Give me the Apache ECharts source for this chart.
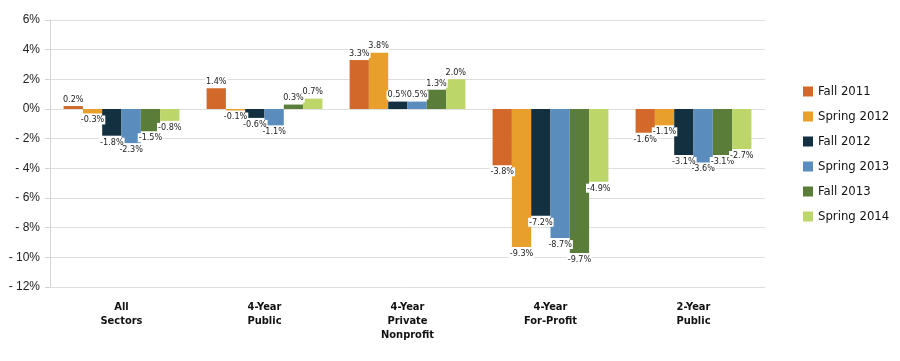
<!DOCTYPE html>
<html><head><meta charset="utf-8">
<script src="https://cdn.jsdelivr.net/npm/echarts@6/dist/echarts.min.js"></script>
<style>html,body{margin:0;padding:0;background:#fff}#c{width:900px;height:361px}</style>
</head><body><div id="c"></div>
<script>
const categories = ["All\nSectors", "4-Year\nPublic", "4-Year\nPrivate\nNonprofit", "4-Year\nFor-Profit", "2-Year\nPublic"];
const seriesNames = ["Fall 2011", "Spring 2012", "Fall 2012", "Spring 2013", "Fall 2013", "Spring 2014"];
const fall2011 = [0.2, 1.4, 3.3, -3.8, -1.6];
const spring2012 = [-0.3, -0.1, 3.8, -9.3, -1.1];
const fall2012 = [-1.8, -0.6, 0.5, -7.2, -3.1];
const spring2013 = [-2.3, -1.1, 0.5, -8.7, -3.6];
const fall2013 = [-1.5, 0.3, 1.3, -9.7, -3.1];
const spring2014 = [-0.8, 0.7, 2.0, -4.9, -2.7];
const yTicks = [-12, -10, -8, -6, -4, -2, 0, 2, 4, 6];

const allValues = [fall2011, spring2012, fall2012, spring2013, fall2013, spring2014];
const colors = ["#D2692A", "#E99F2B", "#12303F", "#5A8CBD", "#5A7E3A", "#BDD66A"];
const narrow = "'Liberation Sans Narrow','DejaVu Sans Condensed',sans-serif";

const series = seriesNames.map((name, i) => ({
  name: name,
  type: 'bar',
  barGap: '0%',
  barCategoryGap: '19%',
  itemStyle: {color: colors[i]},
  data: allValues[i].map(v => ({
    value: v,
    label: {position: v >= 0 ? 'top' : 'bottom'}
  })),
  label: {
    show: true,
    distance: 2,
    fontFamily: narrow,
    fontSize: 9,
    color: '#222',
    backgroundColor: '#fff',
    padding: [0, 1],
    formatter: p => p.value.toFixed(1) + '%'
  }
}));

const chart = echarts.init(document.getElementById('c'), null, {renderer: 'canvas'});
chart.setOption({
  animation: false,
  color: colors,
  grid: {left: 50, right: 135, top: 20, bottom: 74},
  legend: {
    orient: 'vertical',
    left: 798,
    top: 80,
    itemWidth: 10,
    itemHeight: 10,
    itemGap: 12,
    icon: 'rect',
    textStyle: {fontFamily: narrow, fontSize: 13, color: '#111'},
    data: seriesNames
  },
  xAxis: {
    type: 'category',
    data: categories,
    position: 'bottom',
    axisLine: {show: false},
    axisTick: {show: false},
    axisLabel: {
      margin: 13,
      fontFamily: narrow,
      fontWeight: 'bold',
      fontSize: 11,
      lineHeight: 14,
      color: '#111'
    }
  },
  yAxis: {
    type: 'value',
    min: yTicks[0],
    max: yTicks[yTicks.length - 1],
    interval: 2,
    axisLine: {show: true, lineStyle: {color: '#d4d4d4'}},
    axisTick: {show: true, length: 5, lineStyle: {color: '#d4d4d4'}},
    splitLine: {lineStyle: {color: '#dedede'}},
    axisLabel: {
      margin: 10,
      fontFamily: 'Liberation Sans, Arial, sans-serif',
      fontSize: 12,
      color: '#222',
      formatter: v => v < 0 ? '- ' + Math.abs(v) + '%' : v + '%'
    }
  },
  series: series
});
</script>
</body></html>
